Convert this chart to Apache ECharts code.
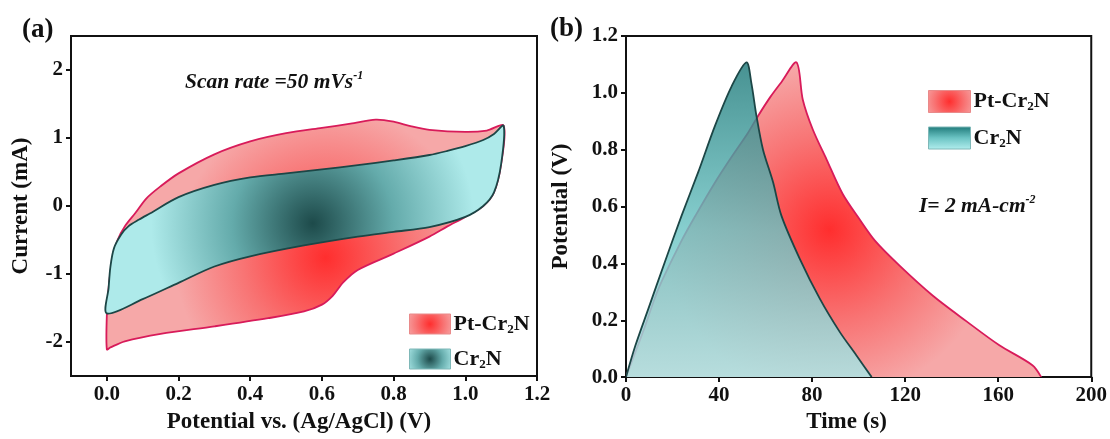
<!DOCTYPE html>
<html><head><meta charset="utf-8">
<script src="https://cdn.jsdelivr.net/npm/echarts@6/dist/echarts.min.js"></script>
<style>html,body{margin:0;padding:0;background:#fff}#c{width:1110px;height:439px}</style>
</head><body><div id="c"></div>
<script>
// ---- data ----
const cvTicks = [0, 0.2, 0.4, 0.6, 0.8, 1.0, 1.2];
const currentTicks = [-2, -1, 0, 1, 2];
// Pt-Cr2N CV loop (potential V, current mA)
const ptCvX = [0.00, 0.00, 0.005, 0.015, 0.03, 0.05, 0.08, 0.11, 0.15, 0.20, 0.30, 0.40, 0.50, 0.60, 0.68, 0.75, 0.80, 0.85, 0.90, 1.00, 1.06, 1.107, 1.10, 1.08, 1.05, 1.00, 0.95, 0.90, 0.80, 0.70, 0.66, 0.63, 0.60, 0.55, 0.45, 0.30, 0.15, 0.05, 0.01];
const ptCvY = [-2.11, -1.60, -1.20, -0.80, -0.50, -0.30, -0.10, 0.11, 0.29, 0.48, 0.76, 0.95, 1.07, 1.15, 1.21, 1.27, 1.24, 1.17, 1.12, 1.09, 1.11, 1.18, 0.62, 0.20, 0.00, -0.16, -0.30, -0.45, -0.70, -0.94, -1.12, -1.32, -1.45, -1.55, -1.65, -1.77, -1.88, -1.99, -2.08];
// Cr2N CV loop
const crCvX = [0.00, 0.005, 0.01, 0.02, 0.04, 0.06, 0.09, 0.12, 0.20, 0.30, 0.40, 0.50, 0.60, 0.70, 0.80, 0.90, 0.95, 1.00, 1.05, 1.08, 1.107, 1.10, 1.08, 1.05, 1.00, 0.90, 0.80, 0.70, 0.55, 0.40, 0.30, 0.20, 0.10];
const crCvY = [-1.58, -1.20, -0.89, -0.62, -0.42, -0.30, -0.20, -0.11, 0.13, 0.31, 0.42, 0.48, 0.54, 0.60, 0.67, 0.75, 0.81, 0.88, 0.97, 1.06, 1.18, 0.62, 0.20, 0.00, -0.16, -0.31, -0.38, -0.45, -0.58, -0.74, -0.89, -1.13, -1.37];
// GCD curves (time s, potential V)
const ptGcdT = [0, 3.9, 8, 13.9, 23.9, 30, 38.2, 45, 52.4, 56.7, 62, 67, 73.3, 76, 80.3, 86.2, 93.1, 100.4, 107, 117.6, 131.8, 146.4, 160.5, 174.7, 178.5];
const ptGcdV = [0, 0.085, 0.175, 0.31, 0.48, 0.57, 0.684, 0.77, 0.859, 0.918, 0.985, 1.04, 1.107, 0.976, 0.871, 0.766, 0.645, 0.555, 0.48, 0.392, 0.287, 0.196, 0.112, 0.042, 0];
const crGcdT = [0, 4, 9.6, 16.7, 23.9, 31, 38.2, 45.4, 51.8, 53.9, 56.1, 58.9, 63.2, 66.8, 74.7, 83.3, 91.8, 99, 105.6];
const crGcdV = [0, 0.11, 0.24, 0.405, 0.568, 0.72, 0.883, 1.023, 1.107, 1.034, 0.918, 0.80, 0.686, 0.568, 0.416, 0.276, 0.16, 0.077, 0];
const names = ['Pt-Cr2N', 'Cr2N'];

// ---- styles ----
const FONT = '"Liberation Serif","Times New Roman",serif';
const G = echarts.graphic;
const pinkRad = (x, y, r) => new G.RadialGradient(x, y, r, [{offset: 0, color: '#ff2e2e'}, {offset: 0.55, color: '#f87474'}, {offset: 1, color: '#f6a8a8'}]);
const tealRad = (x, y, r) => new G.RadialGradient(x, y, r, [{offset: 0, color: '#1d4a4a'}, {offset: 0.5, color: '#64abab'}, {offset: 1, color: '#aeeaea'}]);
const tealLin = () => new G.LinearGradient(0, 0, 0, 1, [{offset: 0, color: '#1f7a7a'}, {offset: 0.5, color: '#6cc4c4'}, {offset: 1, color: '#b2eeee'}]);
const PINK_LINE = '#d81b5a', TEAL_LINE = '#1c4646';

// closed CV loop drawn as a smoothed polygon through the axis scales
function loopSeries(name, xs, ys, fill, stroke, z) {
  const pts = xs.map((x, i) => [x, ys[i]]);
  return {
    type: 'custom', name, xAxisIndex: 0, yAxisIndex: 0, z,
    data: pts, encode: {x: 0, y: 1},
    itemStyle: {color: fill, borderColor: stroke},
    renderItem(params, api) {
      if (params.dataIndex !== 0) return null;
      const poly = pts.map(p => api.coord(p));
      return {type: 'polygon', shape: {points: poly, smooth: 0.3}, style: {fill, stroke, lineWidth: 1.8}};
    }
  };
}
// GCD curve: filled down to 0 V, then stroked
function gcdSeries(name, xs, ys, fill, stroke, z, fillOpacity) {
  const pts = xs.map((x, i) => [x, ys[i]]);
  return {
    type: 'custom', name, xAxisIndex: 1, yAxisIndex: 1, z, clip: true,
    data: pts, encode: {x: 0, y: 1},
    itemStyle: {color: fill, borderColor: stroke},
    renderItem(params, api) {
      if (params.dataIndex !== 0) return null;
      const line = pts.map(p => api.coord(p));
      const last = pts[pts.length - 1];
      const area = line.concat([api.coord([last[0], -0.06]), api.coord([pts[0][0], -0.06])]);
      return {type: 'group', children: [
        {type: 'polygon', shape: {points: area, smooth: 0.3}, style: {fill, opacity: fillOpacity}},
        {type: 'polyline', shape: {points: line, smooth: 0.3}, style: {fill: null, stroke, lineWidth: 1.8}}
      ]};
    }
  };
}

const axisCommon = {
  axisLine: {show: true, onZero: false, lineStyle: {color: '#111', width: 2}},
  splitLine: {show: false},
  nameLocation: 'middle'
};
const nameStyle = {fontFamily: FONT, fontWeight: 'bold', fontSize: 23, color: '#111'};
const lblStyle = {fontFamily: FONT, fontWeight: 'bold', fontSize: 21, color: '#111'};
const tickStyle = {length: 5, lineStyle: {color: '#111', width: 2}};
const legendRich = {
  n: {fontFamily: FONT, fontWeight: 'bold', fontSize: 22, color: '#111', lineHeight: 24, verticalAlign: 'middle'},
  s: {fontFamily: FONT, fontWeight: 'bold', fontSize: 13, color: '#111', lineHeight: 24, verticalAlign: 'bottom'}
};
const legendFmt = n => n === 'Pt-Cr2N' ? '{n|Pt-Cr}{s|2}{n|N}' : '{n|Cr}{s|2}{n|N}';
const supRich = {
  m: {fontFamily: FONT, fontWeight: 'bold', fontStyle: 'italic', fontSize: 21.5, fill: '#111', lineHeight: 25},
  p: {fontFamily: FONT, fontWeight: 'bold', fontStyle: 'italic', fontSize: 12, fill: '#111', lineHeight: 25, verticalAlign: 'top'}
};

const option = {
  animation: false,
  backgroundColor: '#fff',
  grid: [
    {left: 71, top: 36, width: 466, height: 341, show: true, borderColor: '#111', borderWidth: 2, backgroundColor: 'transparent'},
    {left: 626, top: 36, width: 466, height: 343, show: true, borderColor: '#111', borderWidth: 2, backgroundColor: 'transparent'}
  ],
  xAxis: [
    Object.assign({}, axisCommon, {type: 'value', gridIndex: 0, min: -0.1, max: 1.2,
      axisTick: Object.assign({show: true, customValues: cvTicks}, tickStyle),
      axisLabel: Object.assign({customValues: cvTicks, formatter: v => v.toFixed(1), margin: 8}, lblStyle),
      name: 'Potential vs. (Ag/AgCl) (V)', nameGap: 35,
      nameTextStyle: Object.assign({padding: [0, 10, 0, 0]}, nameStyle)}),
    Object.assign({}, axisCommon, {type: 'value', gridIndex: 1, min: 0, max: 200, interval: 40,
      axisTick: Object.assign({show: true}, tickStyle),
      axisLabel: Object.assign({margin: 8, showMaxLabel: true}, lblStyle),
      name: 'Time (s)', nameGap: 28,
      nameTextStyle: Object.assign({padding: [0, 24, 0, 0]}, nameStyle)})
  ],
  yAxis: [
    Object.assign({}, axisCommon, {type: 'value', gridIndex: 0, min: -2.5, max: 2.5,
      axisTick: Object.assign({show: true, customValues: currentTicks}, tickStyle),
      axisLabel: Object.assign({customValues: currentTicks, formatter: v => String(v), margin: 8}, lblStyle),
      name: 'Current (mA)', nameGap: 38, nameTextStyle: nameStyle}),
    Object.assign({}, axisCommon, {type: 'value', gridIndex: 1, min: 0, max: 1.2, interval: 0.2,
      axisTick: Object.assign({show: true}, tickStyle),
      axisLabel: Object.assign({formatter: v => v.toFixed(1), margin: 8}, lblStyle),
      name: 'Potential (V)', nameGap: 53, nameTextStyle: nameStyle})
  ],
  legend: [
    {orient: 'vertical', left: 409, top: 313, padding: 0, itemWidth: 41, itemHeight: 20, itemGap: 12, icon: 'rect',
      formatter: legendFmt, textStyle: {rich: legendRich, padding: [0, 0, 0, -2]},
      data: [
        {name: 'Pt-Cr2N', itemStyle: {color: pinkRad(0.5, 0.5, 1.2), borderColor: '#e98a8a', borderWidth: 1}},
        {name: 'Cr2N', itemStyle: {color: tealRad(0.5, 0.5, 1.2), borderColor: '#7fb8b8', borderWidth: 1}}
      ]},
    {orient: 'vertical', left: 928, top: 90, padding: 0, itemWidth: 42, itemHeight: 22, itemGap: 13, icon: 'rect',
      formatter: legendFmt, textStyle: {rich: legendRich, padding: [0, 0, 0, -2]},
      data: [
        {name: 'Pt-Cr2N', itemStyle: {color: pinkRad(0.5, 0.5, 1.2), borderColor: '#e98a8a', borderWidth: 1}},
        {name: 'Cr2N', itemStyle: {color: tealLin(), borderColor: '#7fb8b8', borderWidth: 1}}
      ]}
  ],
  graphic: [
    {type: 'text', left: 22, top: 17, style: {text: '(a)', fontFamily: FONT, fontWeight: 'bold', fontSize: 27, fill: '#111'}},
    {type: 'text', left: 550, top: 16, style: {text: '(b)', fontFamily: FONT, fontWeight: 'bold', fontSize: 27, fill: '#111'}},
    {type: 'text', left: 185, top: 70, style: {text: '{m|Scan rate =50 mVs}{p|-1}', rich: supRich}},
    {type: 'text', left: 919, top: 194, style: {text: '{m|I= 2 mA-cm}{p|-2}', rich: supRich}}
  ],
  series: [
    loopSeries('Pt-Cr2N', ptCvX, ptCvY, pinkRad(0.55, 0.6, 0.65), PINK_LINE, 2),
    loopSeries('Cr2N', crCvX, crCvY, tealRad(0.52, 0.52, 0.85), TEAL_LINE, 3),
    gcdSeries('Pt-Cr2N', ptGcdT, ptGcdV, pinkRad(0.49, 0.5, 0.5), PINK_LINE, 2, 1),
    gcdSeries('Cr2N', crGcdT, crGcdV, tealLin(), TEAL_LINE, 3, 0.82)
  ]
};
const chart = echarts.init(document.getElementById('c'));
chart.setOption(option);
</script>
</body></html>
